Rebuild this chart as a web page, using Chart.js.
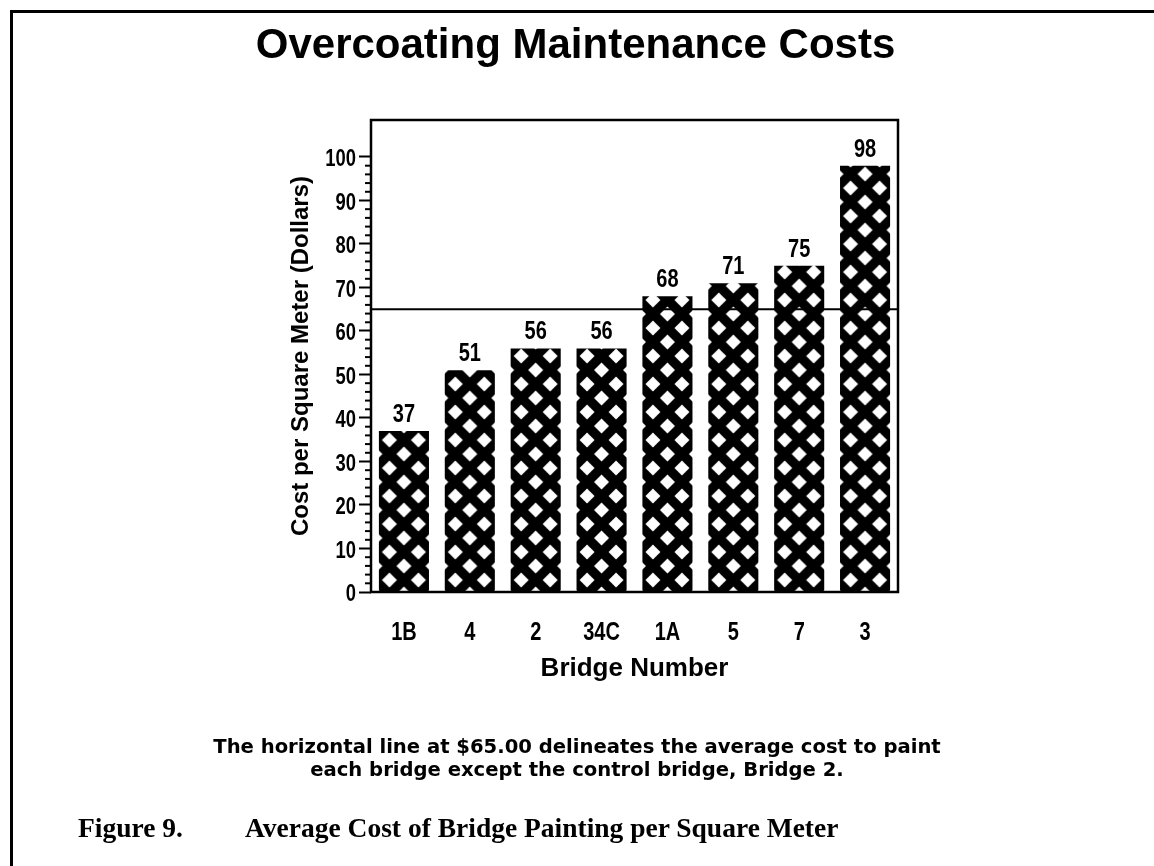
<!DOCTYPE html>
<html>
<head>
<meta charset="utf-8">
<title>Overcoating Maintenance Costs</title>
<script src="https://cdn.jsdelivr.net/npm/chart.js@4"></script>
<style>
  body { margin: 0; background: #fff; }
  #page { position: relative; width: 1154px; height: 866px; overflow: hidden; background: #fff; }
  #frame { position: absolute; left: 10px; top: 10px; width: 1200px; height: 900px; border-left: 3px solid #000; border-top: 3px solid #000; }
  #chart-box { position: absolute; left: 0; top: 0; width: 1154px; height: 866px; }
  .note { position: absolute; left: 0; width: 1154px; text-align: center; line-height: 23px; font: bold 19.6px "DejaVu Sans", sans-serif; color: #000; }
  .fig { position: absolute; top: 812px; line-height: 34px; font: bold 27.5px "Liberation Serif", "Times New Roman", serif; color: #000; }
</style>
</head>
<body>
<div id="page">
  <div id="frame"></div>
  <div id="chart-box"><canvas id="chart"></canvas></div>
  <div class="note" style="top:735px">The horizontal line at $65.00 delineates the average cost to paint</div>
  <div class="note" style="top:758px">each bridge except the control bridge, Bridge 2.</div>
  <div class="fig" style="left:78px">Figure 9.</div>
  <div class="fig" style="left:245px">Average Cost of Bridge Painting per Square Meter</div>
</div>
<script>
// data
const bridges = ["1B", "4", "2", "34C", "1A", "5", "7", "3"];
const costs = [37, 51, 56, 56, 68, 71, 75, 98];
const averageCost = 65;

// y axis
const yMin = 0;
const yMax = 108.5;
const majorStep = 10;
const minorStep = 2;
const lastMajor = 100;

const plainFont = "'Liberation Sans', Arial, sans-serif";
const squeeze = 0.8; // the plot's digits are tall and narrow

Chart.defaults.color = "#000";

// black tile with white diamonds (the hatch of the bars)
const tile = document.createElement("canvas");
tile.width = 29;
tile.height = 28;
const tctx = tile.getContext("2d");
tctx.fillStyle = "#000";
tctx.fillRect(0, 0, 29, 28);
tctx.fillStyle = "#fff";
function diamond(cx, cy) {
  tctx.beginPath();
  tctx.moveTo(cx, cy - 7.5);
  tctx.lineTo(cx + 7.5, cy);
  tctx.lineTo(cx, cy + 7.5);
  tctx.lineTo(cx - 7.5, cy);
  tctx.closePath();
  tctx.fill();
}
diamond(0, 0);
diamond(29, 0);
diamond(0, 28);
diamond(29, 28);
diamond(14.5, 14);

// pattern lined up on each bar's centre and on the baseline
function barPattern(context) {
  if (context.type !== "data") return "#000";
  const chart = context.chart;
  const pat = chart.ctx.createPattern(tile, "repeat");
  const xs = chart.scales.x;
  const ys = chart.scales.y;
  if (!xs || !ys) return pat;
  const cx = xs.getPixelForValue(context.dataIndex);
  const base = ys.getPixelForValue(0);
  if (isFinite(cx) && isFinite(base)) {
    pat.setTransform(new DOMMatrix().translate(cx - 14.5, base - 12));
  }
  return pat;
}

function narrowText(ctx, text, x, y, align, baseline, size) {
  ctx.save();
  ctx.translate(x, y);
  ctx.scale(squeeze, 1);
  ctx.font = "bold " + size + "px " + plainFont;
  ctx.textAlign = align;
  ctx.textBaseline = baseline;
  ctx.fillText(text, 0, 0);
  ctx.restore();
}

// average line, frame, minor ticks, narrow tick labels and bar values
const extras = {
  id: "extras",
  afterDatasetsDraw(chart) {
    const ctx = chart.ctx;
    const a = chart.chartArea;
    const x = chart.scales.x;
    const y = chart.scales.y;
    ctx.save();
    ctx.strokeStyle = "#000";
    ctx.fillStyle = "#000";

    let yAvg = y.getPixelForValue(averageCost);
    ctx.lineWidth = 2;
    ctx.beginPath();
    ctx.moveTo(a.left, yAvg);
    ctx.lineTo(a.right, yAvg);
    ctx.stroke();

    ctx.lineWidth = 2.5;
    ctx.strokeRect(a.left, a.top, a.right - a.left, a.bottom - a.top);

    ctx.lineWidth = 2;
    for (let v = minorStep; v < lastMajor; v += minorStep) {
      if (v % majorStep === 0) continue;
      let py = y.getPixelForValue(v);
      ctx.beginPath();
      ctx.moveTo(a.left - 6, py);
      ctx.lineTo(a.left, py);
      ctx.stroke();
    }

    // y tick labels from the scale's own ticks
    y.ticks.forEach(function (t) {
      narrowText(ctx, String(t.value), a.left - 15, y.getPixelForValue(t.value) + 3, "right", "middle", 23);
    });

    // category labels
    bridges.forEach(function (name, i) {
      narrowText(ctx, name, x.getPixelForValue(i), a.bottom + 41, "center", "middle", 25);
    });

    // value over each bar
    chart.getDatasetMeta(0).data.forEach(function (bar, i) {
      narrowText(ctx, String(costs[i]), bar.x, bar.y - 9, "center", "alphabetic", 25);
    });
    ctx.restore();
  }
};

let ctx = document.getElementById("chart").getContext("2d");
let myChart = new Chart(ctx, {
  type: "bar",
  data: {
    labels: bridges,
    datasets: [{
      label: "Cost per Square Meter",
      data: costs,
      backgroundColor: barPattern,
      borderWidth: 0,
      barPercentage: 0.76,
      categoryPercentage: 1.0
    }]
  },
  options: {
    responsive: true,
    maintainAspectRatio: false,
    animation: false,
    events: [],
    layout: {
      padding: { left: 253, right: 256, top: 0, bottom: 164 }
    },
    plugins: {
      legend: { display: false },
      tooltip: { enabled: false },
      title: {
        display: true,
        text: "Overcoating Maintenance Costs",
        color: "#000",
        font: { family: plainFont, size: 42, weight: "bold" },
        padding: { top: 21, bottom: 48.6 }
      }
    },
    scales: {
      x: {
        grid: { display: false, drawTicks: false },
        border: { display: false },
        ticks: { display: false },
        title: {
          display: true,
          text: "Bridge Number",
          color: "#000",
          font: { family: plainFont, size: 26, weight: "bold" },
          padding: { top: 0, bottom: 18 }
        },
        afterFit: function (scale) { scale.height = 110; }
      },
      y: {
        min: yMin,
        max: yMax,
        grid: {
          drawOnChartArea: false,
          drawTicks: true,
          tickLength: 12,
          tickWidth: 2,
          tickColor: "#000"
        },
        border: { display: false },
        ticks: {
          display: false,
          stepSize: majorStep,
          includeBounds: false
        },
        title: {
          display: true,
          text: "Cost per Square Meter (Dollars)",
          color: "#000",
          font: { family: plainFont, size: 24, weight: "bold" },
          padding: { top: 34, bottom: 0 }
        },
        afterFit: function (scale) { scale.width = 118; }
      }
    }
  },
  plugins: [extras]
});
</script>
</body>
</html>
